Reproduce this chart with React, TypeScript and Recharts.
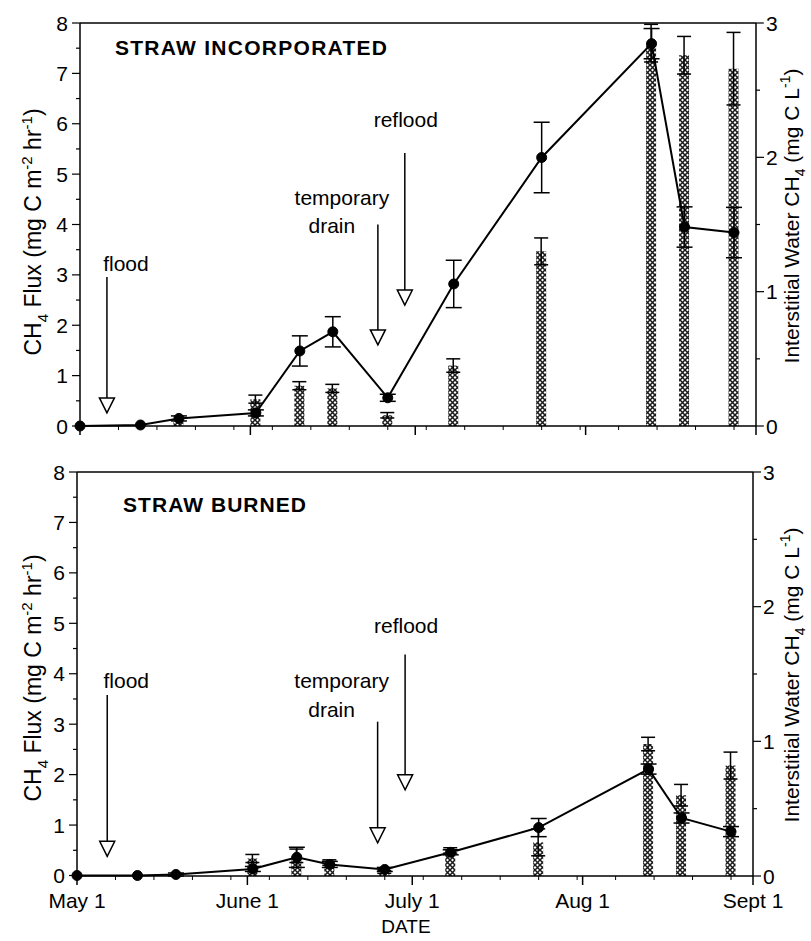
import React from "react";
import { Bar, ComposedChart, ErrorBar, Line, ReferenceDot, ReferenceLine, XAxis, YAxis } from "recharts";

// sampling days, counted from May 1
const sampleDays = [0, 11, 18, 32, 40, 46, 56, 68, 84, 104, 110, 119];

const incorporatedFlux = [0, 0.02, 0.15, 0.26, 1.49, 1.87, 0.56, 2.82, 5.33, 7.59, 3.95, 3.84];
const incorporatedFluxErr = [null, null, 0.05, 0.06, 0.3, 0.3, 0.07, 0.47, 0.7, 0.3, 0.4, 0.5];
const incorporatedWater = [null, null, 0.03, 0.2, 0.3, 0.28, 0.08, 0.45, 1.3, 2.85, 2.76, 2.66];
const incorporatedWaterErr = [null, null, null, 0.03, 0.03, 0.03, 0.02, 0.05, 0.1, 0.14, 0.14, 0.27];

const burnedFlux = [0, 0, 0.02, 0.13, 0.36, 0.22, 0.12, 0.46, 0.95, 2.11, 1.14, 0.87];
const burnedFluxErr = [null, null, 0.03, 0.05, 0.2, 0.06, 0.04, 0.05, 0.18, 0.1, 0.1, 0.1];
const burnedWater = [null, null, null, 0.13, 0.15, 0.1, 0.03, 0.19, 0.25, 0.98, 0.6, 0.82];
const burnedWaterErr = [null, null, null, 0.03, 0.05, 0.02, 0.01, 0.02, 0.1, 0.05, 0.08, 0.1];

const monthTicks = [0, 31, 61, 92, 123];
const monthLabels = ["May 1", "June 1", "July 1", "Aug 1", "Sept 1"];
const weekTicks = [7, 14, 21, 28, 35, 42, 49, 56, 63, 70, 77, 84, 91, 98, 105, 112, 119];
const fluxTicks = [0, 0.5, 1, 1.5, 2, 2.5, 3, 3.5, 4, 4.5, 5, 5.5, 6, 6.5, 7, 7.5, 8];
const waterTicks = [0, 0.5, 1, 1.5, 2, 2.5, 3];

type Note = { lines: string[]; day: number; tail: number; tip: number; dx: number[]; dy: number[] };

const incorporatedNotes: Note[] = [
  { lines: ["flood"], day: 4.9, tail: 2.96, tip: 0.26, dx: [19], dy: [-6] },
  { lines: ["temporary", "drain"], day: 54.2, tail: 4.0, tip: 1.61, dx: [-36, -46], dy: [-20, 8] },
  { lines: ["reflood"], day: 59.1, tail: 5.42, tip: 2.4, dx: [1], dy: [-26] },
];

const burnedNotes: Note[] = [
  { lines: ["flood"], day: 5.5, tail: 3.58, tip: 0.38, dx: [19], dy: [-7] },
  { lines: ["temporary", "drain"], day: 54.7, tail: 3.05, tip: 0.65, dx: [-36, -46], dy: [-34, -5] },
  { lines: ["reflood"], day: 59.7, tail: 4.38, tip: 1.7, dx: [1], dy: [-22] },
];

const FONT = "'Liberation Sans', Arial, Helvetica, sans-serif";

function buildRows(flux: number[], fluxErr: (number | null)[], water: (number | null)[], waterErr: (number | null)[]) {
  return sampleDays.map((day, i) => ({
    day,
    flux: flux[i],
    fluxErr: fluxErr[i],
    water: water[i],
    waterErr: waterErr[i],
  }));
}

function DayTick(props: any) {
  const { x, y, payload, showLabels } = props;
  const idx = monthTicks.indexOf(payload.value);
  const major = idx >= 0;
  return (
    <g>
      <line x1={x} x2={x} y1={y} y2={y + (major ? 9 : 4)} stroke="#000" strokeWidth={major ? 1.5 : 1} />
      {major && showLabels && (
        <text x={x} y={y + 32} textAnchor="middle" fontSize={21} fill="#000">
          {monthLabels[idx]}
        </text>
      )}
    </g>
  );
}

function FluxTick(props: any) {
  const { x, y, payload } = props;
  const major = Number.isInteger(payload.value);
  return (
    <g>
      <line x1={x} x2={x - (major ? 8 : 4)} y1={y} y2={y} stroke="#000" strokeWidth={1.2} />
      {major && (
        <text x={x - 12} y={y} dy="0.36em" textAnchor="end" fontSize={21} fill="#000">
          {payload.value}
        </text>
      )}
    </g>
  );
}

function WaterTick(props: any) {
  const { x, y, payload } = props;
  const major = Number.isInteger(payload.value);
  return (
    <g>
      <line x1={x} x2={x + (major ? 8 : 4)} y1={y} y2={y} stroke="#000" strokeWidth={1.2} />
      {major && (
        <text x={x + 10} y={y} dy="0.36em" textAnchor="start" fontSize={21} fill="#000">
          {payload.value}
        </text>
      )}
    </g>
  );
}

function ArrowHead(props: any) {
  const { cx, cy } = props;
  return (
    <path
      d={`M${cx},${cy} L${cx - 7.5},${cy - 15} L${cx + 7.5},${cy - 15} Z`}
      fill="#fff"
      stroke="#000"
      strokeWidth={1.5}
    />
  );
}

function NoteText(props: any) {
  const { cx, cy, lines, dx, dy } = props;
  return (
    <g>
      {lines.map((line: string, i: number) => (
        <text key={line} x={cx + dx[i]} y={cy + dy[i]} textAnchor="middle" fontSize={21} fill="#000">
          {line}
        </text>
      ))}
    </g>
  );
}

type PanelProps = {
  id: string;
  rows: ReturnType<typeof buildRows>;
  notes: Note[];
  height: number;
  top: number;
  leftWidth: number;
  rightWidth: number;
  xHeight: number;
  showLabels: boolean;
};

function Panel({ id, rows, notes, height, top, leftWidth, rightWidth, xHeight, showLabels }: PanelProps) {
  const axisLine = { stroke: "#000", strokeWidth: 1.5 };
  return (
    <ComposedChart width={811} height={height} data={rows} margin={{ top, right: 0, bottom: 0, left: 0 }}>
      <defs>
        <pattern id={id} width={5} height={5} patternUnits="userSpaceOnUse">
          <rect width={5} height={5} fill="#fff" />
          <path d="M0,0 L5,5 M5,0 L0,5" stroke="#1a1a1a" strokeWidth={1.5} />
        </pattern>
      </defs>
      <XAxis
        dataKey="day"
        type="number"
        domain={[0, 123]}
        ticks={[...monthTicks, ...weekTicks].sort((a, b) => a - b)}
        interval={0}
        tickSize={0}
        tickMargin={0}
        tickLine={false}
        tick={<DayTick showLabels={showLabels} />}
        axisLine={axisLine}
        height={xHeight}
      />
      <YAxis
        yAxisId="flux"
        domain={[0, 8]}
        ticks={fluxTicks}
        interval={0}
        tickSize={0}
        tickMargin={0}
        tickLine={false}
        tick={<FluxTick />}
        axisLine={axisLine}
        width={leftWidth}
      />
      <YAxis
        yAxisId="water"
        orientation="right"
        domain={[0, 3]}
        ticks={waterTicks}
        interval={0}
        tickSize={0}
        tickMargin={0}
        tickLine={false}
        tick={<WaterTick />}
        axisLine={axisLine}
        width={rightWidth}
      />
      <ReferenceLine yAxisId="flux" y={8} stroke="#000" strokeWidth={1.5} />
      <Bar yAxisId="water" dataKey="water" barSize={10} fill={`url(#${id})`} isAnimationActive={false}>
        <ErrorBar dataKey="waterErr" width={7} stroke="#000" strokeWidth={1.5} />
      </Bar>
      <Line
        yAxisId="flux"
        dataKey="flux"
        stroke="#000"
        strokeWidth={2}
        dot={{ r: 5, fill: "#000", stroke: "#000", strokeWidth: 1 }}
        isAnimationActive={false}
      >
        <ErrorBar dataKey="fluxErr" width={8} stroke="#000" strokeWidth={1.5} />
      </Line>
      {notes.map((n) => (
        <ReferenceLine
          key={`shaft-${n.lines[0]}`}
          yAxisId="flux"
          segment={[
            { x: n.day, y: n.tail },
            { x: n.day, y: n.tip },
          ]}
          stroke="#000"
          strokeWidth={1.5}
        />
      ))}
      {notes.map((n) => (
        <ReferenceDot key={`head-${n.lines[0]}`} yAxisId="flux" x={n.day} y={n.tip} shape={<ArrowHead />} />
      ))}
      {notes.map((n) => (
        <ReferenceDot
          key={`text-${n.lines[0]}`}
          yAxisId="flux"
          x={n.day}
          y={n.tail}
          shape={<NoteText lines={n.lines} dx={n.dx} dy={n.dy} />}
        />
      ))}
    </ComposedChart>
  );
}

function FluxTitle({ x, y }: { x: number; y: number }) {
  return (
    <text transform={`translate(${x},${y}) rotate(-90)`} textAnchor="middle" fontSize={23} fill="#000">
      <tspan>CH</tspan>
      <tspan fontSize={15} dy={7}>4</tspan>
      <tspan dy={-7}> Flux (mg C m</tspan>
      <tspan fontSize={15} dy={-9}>-2</tspan>
      <tspan dy={9}> hr</tspan>
      <tspan fontSize={15} dy={-9}>-1</tspan>
      <tspan dy={9}>)</tspan>
    </text>
  );
}

function WaterTitle({ x, y }: { x: number; y: number }) {
  return (
    <text transform={`translate(${x},${y}) rotate(-90)`} textAnchor="middle" fontSize={21} fill="#000">
      <tspan>Interstitial Water CH</tspan>
      <tspan fontSize={14} dy={6}>4</tspan>
      <tspan dy={-6}> (mg C L</tspan>
      <tspan fontSize={14} dy={-9}>-1</tspan>
      <tspan dy={9}>)</tspan>
    </text>
  );
}

export default function App() {
  const incorporatedRows = buildRows(incorporatedFlux, incorporatedFluxErr, incorporatedWater, incorporatedWaterErr);
  const burnedRows = buildRows(burnedFlux, burnedFluxErr, burnedWater, burnedWaterErr);

  return (
    <div
      style={{
        position: "absolute",
        left: 0,
        top: 0,
        width: 811,
        height: 941,
        background: "#fff",
        fontFamily: FONT,
        overflow: "hidden",
      }}
    >
      <div style={{ position: "absolute", left: 0, top: 0 }}>
        <Panel
          id="hatch-top"
          rows={incorporatedRows}
          notes={incorporatedNotes}
          height={460}
          top={23}
          leftWidth={80}
          rightWidth={55}
          xHeight={34}
          showLabels={false}
        />
      </div>
      <div style={{ position: "absolute", left: 0, top: 460 }}>
        <Panel
          id="hatch-bottom"
          rows={burnedRows}
          notes={burnedNotes}
          height={481}
          top={12}
          leftWidth={77}
          rightWidth={58}
          xHeight={65}
          showLabels={true}
        />
      </div>
      <svg
        width={811}
        height={941}
        style={{ position: "absolute", left: 0, top: 0, pointerEvents: "none", fontFamily: FONT }}
      >
        <text x={115} y={55} fontSize={21} fontWeight="bold" textLength={272} lengthAdjust="spacing" fill="#000">
          STRAW INCORPORATED
        </text>
        <text x={123} y={512} fontSize={21} fontWeight="bold" textLength={183} lengthAdjust="spacing" fill="#000">
          STRAW BURNED
        </text>
        <FluxTitle x={41} y={232} />
        <FluxTitle x={41} y={678} />
        <WaterTitle x={799} y={216} />
        <WaterTitle x={799} y={675} />
        <text x={406} y={933} textAnchor="middle" fontSize={19} fill="#000">
          DATE
        </text>
      </svg>
    </div>
  );
}
